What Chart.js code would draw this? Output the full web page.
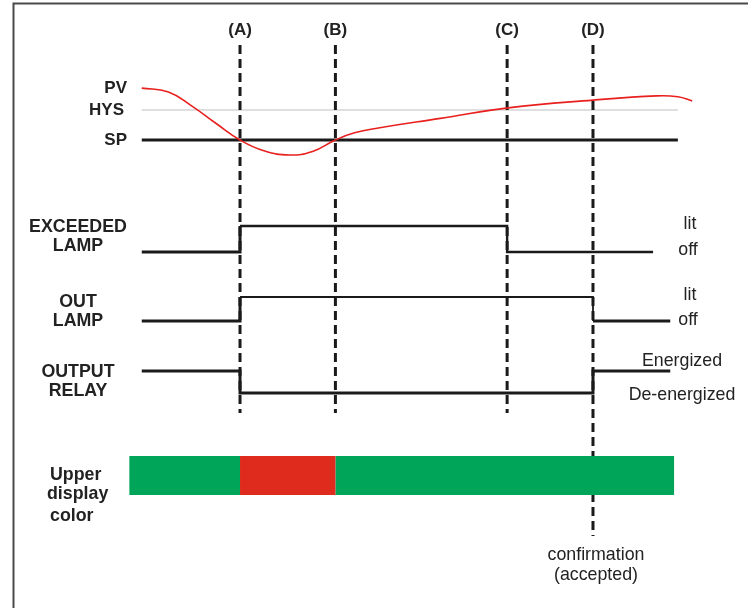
<!DOCTYPE html>
<html>
<head>
<meta charset="utf-8">
<style>
  html, body { margin: 0; padding: 0; background: #fff; }
  #wrap { width: 748px; height: 608px; position: relative; }
</style>
<script src="https://cdn.jsdelivr.net/npm/chart.js@4.4.1/dist/chart.umd.min.js"></script>
</head>
<body>
<div id="wrap"><canvas id="timing" width="748" height="608"></canvas></div>
<script>
// Event times (arbitrary time units)
const EVENT_LABELS = ['(A)', '(B)', '(C)', '(D)'];
const EVENT_T = [10, 20, 38, 47];
const T_START = -0.3;

// PV relative to SP (SP = 0, HYS = 1)
const PV_T = [-0.3, 2.5, 5, 7.5, 10, 12.5, 15.2, 17.6, 20, 22, 24.5, 31, 38.1, 47, 53.7, 55.9, 57.4];
const PV_V = [1.73, 1.6, 1.12, 0.55, 0, -0.36, -0.5, -0.38, 0, 0.24, 0.4, 0.72, 1.07, 1.33, 1.47, 1.44, 1.3];
const SP_END = 55.9;

// Step signals: value holds from each time until the next one
const EXCEEDED_T = [-0.3, 10, 38, 53.3];
const EXCEEDED_V = [0, 1, 0, 0];        // 1 = lit, 0 = off
const OUTLAMP_T = [-0.3, 10, 47, 55.1];
const OUTLAMP_V = [0, 1, 0, 0];         // 1 = lit, 0 = off
const RELAY_T = [-0.3, 10, 47, 55.1];
const RELAY_V = [1, 0, 1, 1];           // 1 = Energized, 0 = De-energized

// Upper display colour bands
const COLOR_T = [-1.6, 10, 20, 55.5];
const COLOR_NAMES = ['green', 'red', 'green'];

const H = 608;
const INK = '#1a1a1a';
const GREEN = '#00a559';
const RED = '#de2b1d';

function pts(ts, vs) { return ts.map((t, i) => ({ x: t, y: vs[i] })); }

// hidden axis that puts value v0 at pixel p0 and v1 at pixel p1
function rowAxis(v0, p0, v1, p1) {
    const k = (p0 - p1) / (v1 - v0);
    const max = v1 + p1 / k;
    return { type: 'linear', display: false, min: max - H / k, max: max };
}

const datasets = [];

// colour bar (drawn on top of the dashed (D) line)
for (let i = 0; i < COLOR_NAMES.length; i++) {
    datasets.push({
        data: [{ x: COLOR_T[i], y: 475.5 }, { x: COLOR_T[i + 1], y: 475.5 }],
        yAxisID: 'yPx',
        borderColor: COLOR_NAMES[i] === 'red' ? RED : GREEN,
        borderWidth: 39,
        borderCapStyle: 'butt'
    });
}

datasets.push({
    data: pts(PV_T, PV_V),
    yAxisID: 'yPV',
    borderColor: '#e8201e',
    borderWidth: 1.6,
    tension: 0.45
});

datasets.push({
    data: pts(EXCEEDED_T, EXCEEDED_V),
    yAxisID: 'yExc',
    stepped: 'before',
    borderColor: INK,
    borderWidth: 2.4,
    segment: { borderWidth: ctx => ctx.p0DataIndex === 0 ? 3 : 2.4 }
});

datasets.push({
    data: pts(OUTLAMP_T, OUTLAMP_V),
    yAxisID: 'yOut',
    stepped: 'before',
    borderColor: INK,
    borderWidth: 3,
    segment: { borderWidth: ctx => ctx.p0DataIndex === 1 ? 1.8 : 3 }
});

datasets.push({
    data: pts(RELAY_T, RELAY_V),
    yAxisID: 'yRelay',
    stepped: 'before',
    borderColor: INK,
    borderWidth: 3
});

// SP line
datasets.push({
    data: [{ x: T_START, y: 0 }, { x: SP_END, y: 0 }],
    yAxisID: 'yPV',
    borderColor: INK,
    borderWidth: 3
});

// event markers
EVENT_T.forEach((t, i) => {
    datasets.push({
        data: [{ x: t, y: 45 }, { x: t, y: i === 3 ? 536 : 413 }],
        yAxisID: 'yPx',
        borderColor: INK,
        borderWidth: 3,
        borderDash: [9, 5],
        borderCapStyle: 'butt'
    });
});

// HYS line
datasets.push({
    data: [{ x: T_START, y: 1 }, { x: SP_END, y: 1 }],
    yAxisID: 'yPV',
    borderColor: '#d4d4d4',
    borderWidth: 1.5
});

datasets.forEach(d => { d.pointRadius = 0; d.fill = false; d.clip = false; d.tension = d.tension || 0; });

const textPlugin = {
    id: 'timingText',
    beforeDraw(chart) {
        const c = chart.ctx;
        c.save();
        c.strokeStyle = '#4a4a4a';
        c.lineWidth = 2;
        c.beginPath();
        c.moveTo(13.5, 608);
        c.lineTo(13.5, 3.5);
        c.lineTo(748, 3.5);
        c.stroke();
        c.restore();
    },
    afterDraw(chart) {
        const c = chart.ctx;
        const x = chart.scales.x;
        const s = chart.scales;
        c.save();
        c.fillStyle = '#222';
        c.textBaseline = 'middle';

        const bold = 'bold 17px "Liberation Sans", Arial, sans-serif';
        const boldRow = 'bold 17.8px "Liberation Sans", Arial, sans-serif';
        const reg = '17.8px "Liberation Sans", Arial, sans-serif';

        c.font = bold;
        c.textAlign = 'center';
        EVENT_T.forEach((t, i) => c.fillText(EVENT_LABELS[i], x.getPixelForValue(t), 30));

        c.textAlign = 'right';
        c.fillText('PV', 127, s.yPV.getPixelForValue(PV_V[0]));
        c.fillText('HYS', 124, s.yPV.getPixelForValue(1));
        c.fillText('SP', 127, s.yPV.getPixelForValue(0));

        c.font = boldRow;
        c.textAlign = 'center';
        const rowText = (lines, yTop) => lines.forEach((l, i) => c.fillText(l, 78, yTop + i * 19.5));
        rowText(['EXCEEDED', 'LAMP'], 227);
        rowText(['OUT', 'LAMP'], 302);
        rowText(['OUTPUT', 'RELAY'], 372);

        c.textAlign = 'left';
        c.fillText('Upper', 50, 475);
        c.fillText('display', 47, 494);
        c.fillText('color', 50, 516);

        c.font = reg;
        c.textAlign = 'center';
        c.fillText('lit', 690, s.yExc.getPixelForValue(1) - 2);
        c.fillText('off', 688, s.yExc.getPixelForValue(0) - 2);
        c.fillText('lit', 690, s.yOut.getPixelForValue(1) - 2);
        c.fillText('off', 688, s.yOut.getPixelForValue(0) - 1);
        c.fillText('Energized', 682, s.yRelay.getPixelForValue(1) - 10);
        c.fillText('De-energized', 682, s.yRelay.getPixelForValue(0) + 2);

        const xd = x.getPixelForValue(EVENT_T[3]) + 3;
        c.fillText('confirmation', xd, 555);
        c.fillText('(accepted)', xd, 575);
        c.restore();
    }
};

new Chart(document.getElementById('timing'), {
    type: 'line',
    data: { datasets: datasets },
    options: {
        responsive: false,
        animation: false,
        events: [],
        layout: { padding: 0 },
        plugins: { legend: { display: false }, tooltip: { enabled: false } },
        scales: {
            x: { type: 'linear', display: false, min: -15.16, max: 63.25 },
            yPV: rowAxis(0, 140, 1, 110),
            yExc: rowAxis(0, 252, 1, 226),
            yOut: rowAxis(0, 321, 1, 297),
            yRelay: rowAxis(0, 393, 1, 371),
            yPx: { type: 'linear', display: false, min: 0, max: 608, reverse: true }
        }
    },
    plugins: [textPlugin]
});
</script>
</body>
</html>
